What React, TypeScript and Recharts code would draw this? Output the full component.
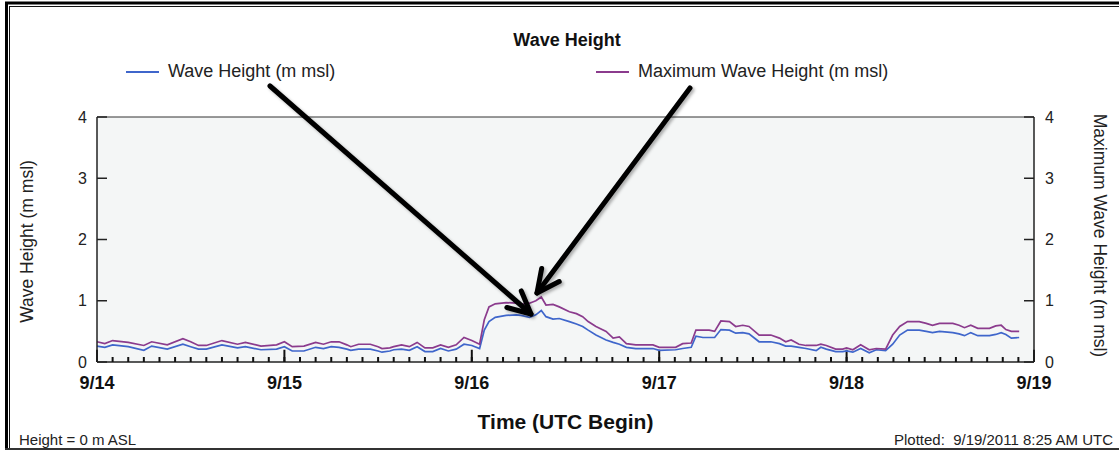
import {
  CartesianGrid,
  Legend,
  Line,
  LineChart,
  ReferenceLine,
  XAxis,
  YAxis,
} from "recharts";

const FONT = '"Liberation Sans", Arial, sans-serif';
const BLUE = "#3f66cb";
const PURPLE = "#8b3b8d";
const INK = "#222";

// hours since 9/14 00:00 UTC, one row per day
const HOURS = [
  0, 1, 2, 4, 6, 7, 9, 11, 12, 13, 14, 16, 18, 19, 21, 23, 24,
  25, 26.5, 28, 29, 30, 31, 32, 32.5, 33.5, 35, 36, 36.5, 37.5, 38, 39, 40, 41, 42, 43, 44, 45, 46, 47, 48,
  49, 49.6, 50.2, 51, 52.4, 53.7, 54.3, 55.4, 56.2, 56.9, 57.5, 58.4, 59.2, 60.5, 61.4, 62.2, 62.9, 63.9, 65.2, 66.1, 66.9, 67.8, 69, 71.2, 72,
  74.1, 75, 76.1, 76.7, 77.6, 78.4, 79.1, 79.9, 81, 81.8, 82.7, 83.5, 84.8, 86.3, 87.4, 88.2, 88.9, 89.9, 90.8, 92.1, 92.7, 93.4, 94.6, 95.5, 96,
  96.8, 97.8, 98.9, 99.8, 101, 101.9, 102.8, 103.8, 105.3, 106.2, 107, 107.9, 109.6, 110.4, 111.1, 111.9, 112.8, 114.3, 115.1, 115.8, 116.4, 117.1, 118.1,
];

const WAVE_HEIGHT = [
  0.26, 0.24, 0.28, 0.25, 0.19, 0.26, 0.21, 0.29, 0.25, 0.21, 0.21, 0.28, 0.23, 0.25, 0.2, 0.21, 0.25,
  0.18, 0.18, 0.24, 0.22, 0.25, 0.24, 0.21, 0.19, 0.21, 0.21, 0.18, 0.16, 0.18, 0.2, 0.21, 0.19, 0.25, 0.17, 0.17, 0.22, 0.18, 0.21, 0.29, 0.27,
  0.22, 0.52, 0.66, 0.73, 0.76, 0.77, 0.76, 0.73, 0.77, 0.84, 0.74, 0.7, 0.71, 0.66, 0.62, 0.58, 0.52, 0.44, 0.36, 0.32, 0.29, 0.24, 0.22, 0.22, 0.19,
  0.2, 0.22, 0.24, 0.42, 0.4, 0.4, 0.4, 0.53, 0.52, 0.47, 0.48, 0.46, 0.33, 0.33, 0.3, 0.26, 0.26, 0.24, 0.22, 0.185, 0.24, 0.21, 0.17, 0.17, 0.18,
  0.16, 0.22, 0.15, 0.2, 0.185, 0.29, 0.44, 0.52, 0.52, 0.5, 0.48, 0.5, 0.48, 0.46, 0.43, 0.48, 0.43, 0.43, 0.45, 0.48, 0.45, 0.39, 0.4,
];

const MAX_WAVE_HEIGHT = [
  0.33, 0.3, 0.35, 0.32, 0.27, 0.33, 0.28, 0.38, 0.33, 0.27, 0.27, 0.35, 0.29, 0.32, 0.26, 0.28, 0.33,
  0.25, 0.26, 0.32, 0.29, 0.33, 0.33, 0.28, 0.25, 0.29, 0.29, 0.25, 0.22, 0.23, 0.25, 0.28, 0.25, 0.32, 0.23, 0.23, 0.28, 0.24, 0.28, 0.4, 0.35,
  0.29, 0.69, 0.9, 0.95, 0.97, 0.96, 0.94, 0.96, 1.0, 1.06, 0.93, 0.94, 0.9, 0.82, 0.79, 0.74, 0.66, 0.58, 0.5, 0.39, 0.41, 0.3, 0.28, 0.28, 0.24,
  0.24, 0.3, 0.31, 0.52, 0.52, 0.52, 0.5, 0.67, 0.66, 0.58, 0.6, 0.58, 0.44, 0.44, 0.39, 0.33, 0.36, 0.29, 0.27, 0.27, 0.29, 0.27, 0.21, 0.21, 0.23,
  0.2, 0.28, 0.2, 0.22, 0.21, 0.44, 0.58, 0.66, 0.66, 0.63, 0.6, 0.63, 0.63, 0.6, 0.56, 0.6, 0.55, 0.55, 0.59, 0.6, 0.53, 0.5, 0.5,
];

const DAY_LABELS = ["9/14", "9/15", "9/16", "9/17", "9/18", "9/19"];
const HEIGHT_TICKS = [0, 1, 2, 3, 4];

const SERIES = [
  { key: "wave", name: "Wave Height (m msl)", color: BLUE, left: 126 },
  { key: "maxWave", name: "Maximum Wave Height (m msl)", color: PURPLE, left: 596 },
];

const rows = HOURS.map((h, i) => ({
  h,
  wave: WAVE_HEIGHT[i],
  maxWave: MAX_WAVE_HEIGHT[i],
}));

// minor tick every 2 hours, day ticks are longer and labelled
const timeTicks = Array.from({ length: 61 }, (_, i) => i * 2);
const dayTicks = DAY_LABELS.map((_, i) => i * 24);
const DAY_TICK_LEN = 0.2; // in m, about 12px

function TimeTick({ x, y, payload }: any) {
  const h = Number(payload.value);
  if (h % 24 !== 0) return <g />;
  return (
    <text
      x={x}
      y={y + 27}
      textAnchor="middle"
      fontFamily={FONT}
      fontWeight="bold"
      fontSize={18}
      fill="#111"
    >
      {DAY_LABELS[h / 24]}
    </text>
  );
}

function SeriesLegend() {
  return (
    <div style={{ position: "relative", height: 24, fontFamily: FONT }}>
      {SERIES.map((s) => (
        <div
          key={s.key}
          style={{
            position: "absolute",
            left: s.left,
            top: 0,
            display: "flex",
            alignItems: "center",
            whiteSpace: "nowrap",
          }}
        >
          <div style={{ width: 33, height: 2, background: s.color, marginRight: 9 }} />
          <span style={{ fontSize: 18, color: INK }}>{s.name}</span>
        </div>
      ))}
    </div>
  );
}

// thick annotation arrow with an open head
function Arrow({ from, to }: { from: [number, number]; to: [number, number] }) {
  const [x0, y0] = from;
  const [x1, y1] = to;
  const back = Math.atan2(y0 - y1, x0 - x1);
  const len = 25;
  const spread = (26 * Math.PI) / 180;
  const a = [x1 + len * Math.cos(back - spread), y1 + len * Math.sin(back - spread)];
  const b = [x1 + len * Math.cos(back + spread), y1 + len * Math.sin(back + spread)];
  return (
    <g
      stroke="#000"
      strokeWidth={5}
      strokeLinecap="round"
      strokeLinejoin="round"
      fill="none"
      filter="url(#arrowShadow)"
    >
      <line x1={x0} y1={y0} x2={x1} y2={y1} />
      <polyline points={`${a[0]},${a[1]} ${x1},${y1} ${b[0]},${b[1]}`} />
    </g>
  );
}

export default function App() {
  return (
    <div
      style={{
        position: "absolute",
        left: 0,
        top: 0,
        width: 1119,
        height: 450,
        background: "#fff",
        fontFamily: FONT,
      }}
    >
      <LineChart
        width={1119}
        height={450}
        data={rows}
        margin={{ top: 117, right: 0, bottom: 0, left: 0 }}
      >
        <CartesianGrid
          xAxisId="time"
          yAxisId="left"
          horizontal={false}
          vertical={false}
          fill="#f4f6f6"
        />
        <XAxis
          xAxisId="time"
          dataKey="h"
          type="number"
          domain={[0, 120]}
          ticks={timeTicks}
          interval={0}
          tick={<TimeTick />}
          tickSize={-5}
          tickMargin={5}
          tickLine={{ stroke: "#111", strokeWidth: 2 }}
          axisLine={{ stroke: "#222", strokeWidth: 1.5 }}
          height={88}
          label={{
            value: "Time (UTC Begin)",
            position: "insideBottom",
            offset: 21,
            style: { fontFamily: FONT, fontWeight: "bold", fontSize: 21, fill: "#111" },
          }}
        />
        <YAxis
          yAxisId="left"
          type="number"
          domain={[0, 4]}
          ticks={HEIGHT_TICKS}
          allowDataOverflow
          width={97}
          tickSize={-10}
          tickMargin={20}
          tickLine={{ stroke: "#222", strokeWidth: 1.5 }}
          axisLine={{ stroke: "#222", strokeWidth: 1.5 }}
          tick={{ fontSize: 16, fill: INK, fontFamily: FONT }}
          label={{
            value: "Wave Height (m msl)",
            angle: -90,
            position: "insideLeft",
            offset: 27,
            dy: 2,
            style: { textAnchor: "middle", fontSize: 17.5, fill: INK, fontFamily: FONT },
          }}
        />
        <YAxis
          yAxisId="right"
          orientation="right"
          type="number"
          domain={[0, 4]}
          ticks={HEIGHT_TICKS}
          allowDataOverflow
          width={85}
          tickSize={-10}
          tickMargin={21}
          tickLine={{ stroke: "#222", strokeWidth: 1.5 }}
          axisLine={{ stroke: "#222", strokeWidth: 1.5 }}
          tick={{ fontSize: 16, fill: INK, fontFamily: FONT }}
          label={{
            value: "Maximum Wave Height (m msl)",
            angle: 90,
            position: "insideRight",
            offset: 19,
            dy: -4,
            style: { textAnchor: "middle", fontSize: 17.5, fill: INK, fontFamily: FONT },
          }}
        />
        <ReferenceLine xAxisId="time" yAxisId="left" y={4} stroke="#333" />
        {dayTicks.map((d) => (
          <ReferenceLine
            key={d}
            xAxisId="time"
            yAxisId="left"
            segment={[
              { x: d, y: 0 },
              { x: d, y: DAY_TICK_LEN },
            ]}
            ifOverflow="visible"
            stroke="#111"
            strokeWidth={2}
          />
        ))}
        <Legend
          layout="horizontal"
          verticalAlign="middle"
          align="center"
          wrapperStyle={{ top: 61, left: 0, width: 1119 }}
          content={<SeriesLegend />}
        />
        <Line
          xAxisId="time"
          yAxisId="left"
          dataKey="wave"
          name={SERIES[0].name}
          stroke={BLUE}
          strokeWidth={1.7}
          dot={false}
          activeDot={false}
          isAnimationActive={false}
        />
        <Line
          xAxisId="time"
          yAxisId="right"
          dataKey="maxWave"
          name={SERIES[1].name}
          stroke={PURPLE}
          strokeWidth={1.7}
          dot={false}
          activeDot={false}
          isAnimationActive={false}
        />
      </LineChart>

      <svg
        width={1119}
        height={450}
        style={{ position: "absolute", left: 0, top: 0, pointerEvents: "none" }}
      >
        <defs>
          <filter id="arrowShadow" x="-20%" y="-20%" width="140%" height="140%">
            <feDropShadow dx="2" dy="2" stdDeviation="1.5" floodColor="#000" floodOpacity="0.3" />
          </filter>
        </defs>

        {/* page frame */}
        <line x1={5} y1={3} x2={1119} y2={3} stroke="#000" strokeWidth={3} />
        <line x1={6.5} y1={2} x2={6.5} y2={450} stroke="#000" strokeWidth={3} />
        <line x1={9} y1={6.5} x2={1119} y2={6.5} stroke="#111" strokeWidth={1} />
        <line x1={9.5} y1={6} x2={9.5} y2={450} stroke="#111" strokeWidth={1} />
        <line x1={5} y1={449} x2={1119} y2={449} stroke="#333" strokeWidth={2} />

        <text
          x={567}
          y={46}
          textAnchor="middle"
          fontFamily={FONT}
          fontWeight="bold"
          fontSize={18}
          fill="#111"
        >
          Wave Height
        </text>

        <text x={19} y={445} fontFamily={FONT} fontSize={15} fill={INK}>
          Height = 0 m ASL
        </text>
        <text
          x={1113}
          y={445}
          textAnchor="end"
          fontFamily={FONT}
          fontSize={15}
          fill={INK}
          style={{ whiteSpace: "pre" }}
        >
          {"Plotted:  9/19/2011 8:25 AM UTC"}
        </text>

        <Arrow from={[270, 86]} to={[531, 314]} />
        <Arrow from={[690, 88]} to={[537, 293]} />
      </svg>
    </div>
  );
}
